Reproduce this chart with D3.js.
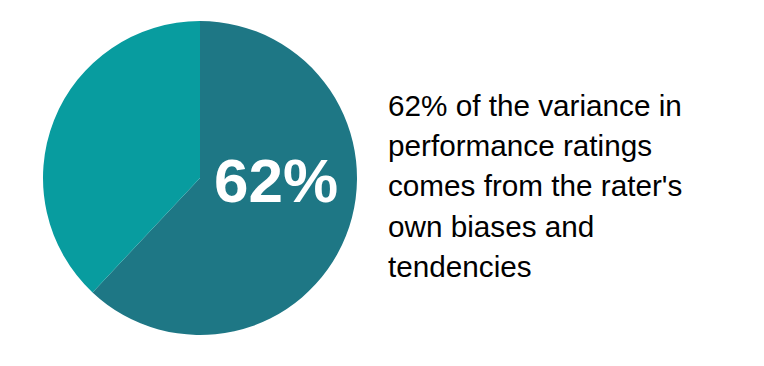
<!DOCTYPE html>
<html>
<head>
<meta charset="utf-8">
<script src="https://cdn.jsdelivr.net/npm/d3@7"></script>
<style>
  body { margin: 0; background: #fff; }
  text { font-family: 'Liberation Sans', Arial, sans-serif; }
</style>
</head>
<body>
<div id="chart"></div>
<script>
const categories = ['Rater biases and tendencies', 'Other']
const values = [62, 38]
const colors = ['#1e7785', '#089c9f']
const bigLabel = '62%'
const captionLines = [
  '62% of the variance in',
  'performance ratings',
  "comes from the rater's",
  'own biases and',
  'tendencies'
]

const width = 764
const height = 366
const cx = 200
const cy = 178
const radius = 157

const svg = d3
  .select('#chart')
  .append('svg')
  .attr('width', width)
  .attr('height', height)

const pie = d3
  .pie()
  .sort(null)
  .value(d => d.value)

const arc = d3.arc().innerRadius(0).outerRadius(radius)

const data = categories.map((c, i) => ({ name: c, value: values[i], color: colors[i] }))

const g = svg.append('g').attr('transform', `translate(${cx},${cy})`)

g.selectAll('path')
  .data(pie(data))
  .enter()
  .append('path')
  .attr('d', arc)
  .attr('fill', d => d.data.color)

// big percentage label inside the large slice
g.append('text')
  .attr('x', 76)
  .attr('y', 24)
  .attr('text-anchor', 'middle')
  .attr('fill', '#fff')
  .attr('font-weight', 'bold')
  .attr('font-size', 62)
  .text(bigLabel)

// caption on the right
const caption = svg
  .append('text')
  .attr('x', 388)
  .attr('y', 116)
  .attr('fill', '#000')
  .attr('font-size', 29.7)

caption
  .selectAll('tspan')
  .data(captionLines)
  .enter()
  .append('tspan')
  .attr('x', 388)
  .attr('dy', (d, i) => (i === 0 ? 0 : 40.2))
  .text(d => d)
</script>
</body>
</html>
